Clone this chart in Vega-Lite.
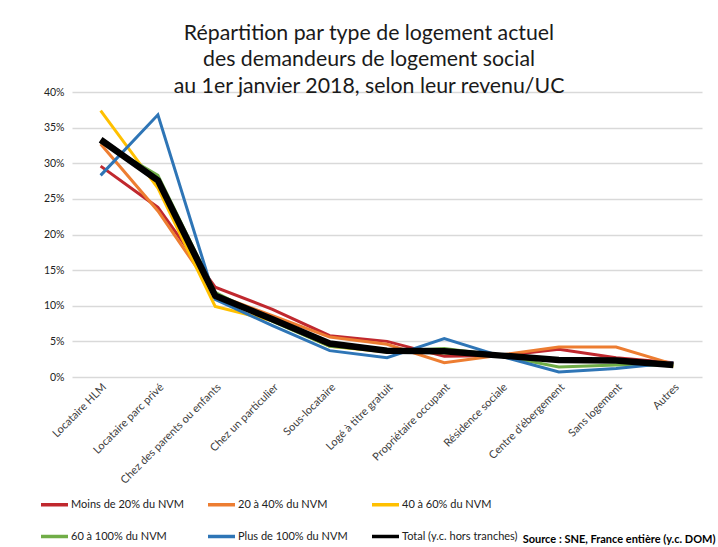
{
  "$schema": "https://vega.github.io/schema/vega-lite/v6.json",
  "autosize": "none",
  "width": 630,
  "height": 285,
  "padding": {"left": 72, "top": 92, "right": 16, "bottom": 170},
  "background": "white",
  "title": {
    "text": ["Répartition par type de logement actuel", "des demandeurs de logement social", "au 1er janvier 2018, selon leur revenu/UC"],
    "font": "Lato",
    "fontSize": 21.3,
    "fontWeight": "normal",
    "color": "#1a1a1a",
    "lineHeight": 26.5,
    "anchor": "middle",
    "dx": -18,
    "offset": -10
  },
  "config": {
    "font": "Lato",
    "view": {"stroke": null}
  },
  "data": {
    "values": [
      {"cat": "Locataire HLM", "serie": "Moins de 20% du NVM", "v": 29.6},
      {"cat": "Locataire parc privé", "serie": "Moins de 20% du NVM", "v": 23.8},
      {"cat": "Chez des parents ou enfants", "serie": "Moins de 20% du NVM", "v": 12.6},
      {"cat": "Chez un particulier", "serie": "Moins de 20% du NVM", "v": 9.5},
      {"cat": "Sous-locataire", "serie": "Moins de 20% du NVM", "v": 5.8},
      {"cat": "Logé à titre gratuit", "serie": "Moins de 20% du NVM", "v": 5.0},
      {"cat": "Propriétaire occupant", "serie": "Moins de 20% du NVM", "v": 2.9},
      {"cat": "Résidence sociale", "serie": "Moins de 20% du NVM", "v": 3.0},
      {"cat": "Centre d'ébergement", "serie": "Moins de 20% du NVM", "v": 3.9},
      {"cat": "Sans logement", "serie": "Moins de 20% du NVM", "v": 2.7},
      {"cat": "Autres", "serie": "Moins de 20% du NVM", "v": 2.0},

      {"cat": "Locataire HLM", "serie": "20 à 40% du NVM", "v": 32.7},
      {"cat": "Locataire parc privé", "serie": "20 à 40% du NVM", "v": 23.3},
      {"cat": "Chez des parents ou enfants", "serie": "20 à 40% du NVM", "v": 11.6},
      {"cat": "Chez un particulier", "serie": "20 à 40% du NVM", "v": 8.6},
      {"cat": "Sous-locataire", "serie": "20 à 40% du NVM", "v": 5.6},
      {"cat": "Logé à titre gratuit", "serie": "20 à 40% du NVM", "v": 4.6},
      {"cat": "Propriétaire occupant", "serie": "20 à 40% du NVM", "v": 2.0},
      {"cat": "Résidence sociale", "serie": "20 à 40% du NVM", "v": 3.1},
      {"cat": "Centre d'ébergement", "serie": "20 à 40% du NVM", "v": 4.2},
      {"cat": "Sans logement", "serie": "20 à 40% du NVM", "v": 4.2},
      {"cat": "Autres", "serie": "20 à 40% du NVM", "v": 1.8},

      {"cat": "Locataire HLM", "serie": "40 à 60% du NVM", "v": 37.4},
      {"cat": "Locataire parc privé", "serie": "40 à 60% du NVM", "v": 26.5},
      {"cat": "Chez des parents ou enfants", "serie": "40 à 60% du NVM", "v": 9.9},
      {"cat": "Chez un particulier", "serie": "40 à 60% du NVM", "v": 7.9},
      {"cat": "Sous-locataire", "serie": "40 à 60% du NVM", "v": 4.3},
      {"cat": "Logé à titre gratuit", "serie": "40 à 60% du NVM", "v": 3.5},
      {"cat": "Propriétaire occupant", "serie": "40 à 60% du NVM", "v": 3.4},
      {"cat": "Résidence sociale", "serie": "40 à 60% du NVM", "v": 3.0},
      {"cat": "Centre d'ébergement", "serie": "40 à 60% du NVM", "v": 2.3},
      {"cat": "Sans logement", "serie": "40 à 60% du NVM", "v": 2.2},
      {"cat": "Autres", "serie": "40 à 60% du NVM", "v": 1.5},

      {"cat": "Locataire HLM", "serie": "60 à 100% du NVM", "v": 33.0},
      {"cat": "Locataire parc privé", "serie": "60 à 100% du NVM", "v": 28.3},
      {"cat": "Chez des parents ou enfants", "serie": "60 à 100% du NVM", "v": 11.9},
      {"cat": "Chez un particulier", "serie": "60 à 100% du NVM", "v": 7.8},
      {"cat": "Sous-locataire", "serie": "60 à 100% du NVM", "v": 4.3},
      {"cat": "Logé à titre gratuit", "serie": "60 à 100% du NVM", "v": 3.6},
      {"cat": "Propriétaire occupant", "serie": "60 à 100% du NVM", "v": 4.0},
      {"cat": "Résidence sociale", "serie": "60 à 100% du NVM", "v": 3.0},
      {"cat": "Centre d'ébergement", "serie": "60 à 100% du NVM", "v": 1.4},
      {"cat": "Sans logement", "serie": "60 à 100% du NVM", "v": 1.7},
      {"cat": "Autres", "serie": "60 à 100% du NVM", "v": 1.7},

      {"cat": "Locataire HLM", "serie": "Plus de 100% du NVM", "v": 28.3},
      {"cat": "Locataire parc privé", "serie": "Plus de 100% du NVM", "v": 36.8},
      {"cat": "Chez des parents ou enfants", "serie": "Plus de 100% du NVM", "v": 10.9},
      {"cat": "Chez un particulier", "serie": "Plus de 100% du NVM", "v": 7.2},
      {"cat": "Sous-locataire", "serie": "Plus de 100% du NVM", "v": 3.7},
      {"cat": "Logé à titre gratuit", "serie": "Plus de 100% du NVM", "v": 2.7},
      {"cat": "Propriétaire occupant", "serie": "Plus de 100% du NVM", "v": 5.4},
      {"cat": "Résidence sociale", "serie": "Plus de 100% du NVM", "v": 2.9},
      {"cat": "Centre d'ébergement", "serie": "Plus de 100% du NVM", "v": 0.7},
      {"cat": "Sans logement", "serie": "Plus de 100% du NVM", "v": 1.2},
      {"cat": "Autres", "serie": "Plus de 100% du NVM", "v": 2.0},

      {"cat": "Locataire HLM", "serie": "Total (y.c. hors tranches)", "v": 33.3},
      {"cat": "Locataire parc privé", "serie": "Total (y.c. hors tranches)", "v": 27.6},
      {"cat": "Chez des parents ou enfants", "serie": "Total (y.c. hors tranches)", "v": 11.4},
      {"cat": "Chez un particulier", "serie": "Total (y.c. hors tranches)", "v": 8.1},
      {"cat": "Sous-locataire", "serie": "Total (y.c. hors tranches)", "v": 4.7},
      {"cat": "Logé à titre gratuit", "serie": "Total (y.c. hors tranches)", "v": 3.7},
      {"cat": "Propriétaire occupant", "serie": "Total (y.c. hors tranches)", "v": 3.6},
      {"cat": "Résidence sociale", "serie": "Total (y.c. hors tranches)", "v": 3.0},
      {"cat": "Centre d'ébergement", "serie": "Total (y.c. hors tranches)", "v": 2.4},
      {"cat": "Sans logement", "serie": "Total (y.c. hors tranches)", "v": 2.3},
      {"cat": "Autres", "serie": "Total (y.c. hors tranches)", "v": 1.7}
    ]
  },
  "encoding": {
    "x": {
      "field": "cat",
      "type": "nominal",
      "sort": null,
      "scale": {"type": "band", "paddingInner": 0, "paddingOuter": 0},
      "axis": {
        "title": "Source : SNE, France entière (y.c. DOM)",
        "titleX": 643,
        "titleY": 165,
        "titleAlign": "right",
        "titleAnchor": null,
        "titleBaseline": "alphabetic",
        "titleFontSize": 11,
        "titleFontWeight": "bold",
        "titleColor": "#000000",
        "labelAngle": -45,
        "labelAlign": "right",
        "labelBaseline": "top",
        "labelFontSize": 11,
        "labelColor": "#404040",
        "labelPadding": 4,
        "labelLimit": 300,
        "domain": false,
        "ticks": false,
        "grid": false
      }
    },
    "y": {
      "field": "v",
      "type": "quantitative",
      "scale": {"domain": [0, 40], "nice": false},
      "axis": {
        "title": null,
        "values": [0, 5, 10, 15, 20, 25, 30, 35, 40],
        "labelExpr": "datum.value + '%'",
        "labelFontSize": 10.5,
        "labelColor": "#222222",
        "labelPadding": 8,
        "domain": false,
        "ticks": false,
        "grid": true,
        "gridColor": "#d9d9d9",
        "gridWidth": 1.3
      }
    },
    "color": {
      "field": "serie",
      "type": "nominal",
      "scale": {
        "domain": ["Moins de 20% du NVM", "20 à 40% du NVM", "40 à 60% du NVM", "60 à 100% du NVM", "Plus de 100% du NVM", "Total (y.c. hors tranches)"],
        "range": ["#C0282E", "#ED7D31", "#FFC000", "#70AD47", "#2E75B6", "#000000"]
      },
      "legend": {
        "title": null,
        "orient": "none",
        "legendX": -33,
        "legendY": 397,
        "direction": "horizontal",
        "columns": 3,
        "symbolType": "stroke",
        "symbolSize": 729,
        "symbolStrokeWidth": 3.5,
        "labelFontSize": 11,
        "labelColor": "#222222",
        "labelOffset": 1,
        "columnPadding": 17,
        "rowPadding": 9,
        "labelLimit": 300
      }
    }
  },
  "layer": [
    {
      "transform": [{"filter": "datum.serie !== 'Total (y.c. hors tranches)'"}],
      "mark": {"type": "line", "strokeWidth": 3, "strokeJoin": "miter", "strokeCap": "butt"}
    },
    {
      "transform": [{"filter": "datum.serie === 'Total (y.c. hors tranches)'"}],
      "mark": {"type": "line", "strokeWidth": 6.5, "strokeJoin": "miter", "strokeCap": "butt"}
    }
  ]
}
